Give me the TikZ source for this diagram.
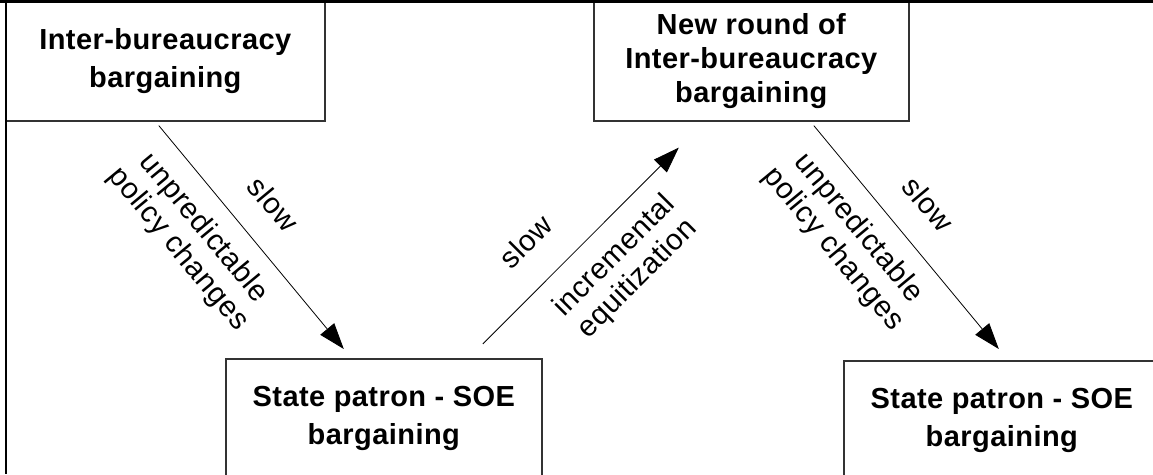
\documentclass[tikz,border=0pt]{standalone}
\usepackage{fontspec}
\setmainfont{Liberation Sans}
\newfontfamily\boxfont[LetterSpace=1.5]{Liberation Sans}
\newfontfamily\lblfont[LetterSpace=2]{Liberation Sans}
\usetikzlibrary{arrows.meta,calc}
\begin{document}
\begin{tikzpicture}[x=1pt,y=-1pt,
  box/.style={draw=black!80, line width=1.6pt, fill=white, minimum height=120pt,
    inner sep=0pt, align=center, anchor=north west,
    font=\boxfont\bfseries\fontsize{29}{38}\selectfont},
  arr/.style={line width=0.8pt, -{Triangle[length=26pt,width=18pt]}},
  lbl/.style={sloped, inner sep=0pt, align=center,
    font=\lblfont\fontsize{29.5}{33}\selectfont}]
\useasboundingbox (0,0) rectangle (1153,474);
\fill[white] (0,0) rectangle (1153,474);
\clip (0,0) rectangle (1153,474);
\node[box, minimum width=319pt] (b1) at (5,0) {Inter-bureaucracy\\bargaining};
\node[box, minimum width=315pt, font=\boxfont\bfseries\fontsize{29}{34}\selectfont] (b2) at (593,0) {New round of\\Inter-bureaucracy\\bargaining};
\node[box, minimum width=316pt] (b3) at (225,358) {State patron - SOE\\bargaining};
\node[box, minimum width=316pt] (b4) at (843,360) {State patron - SOE\\bargaining};
\draw[arr] ($(b1.south)+(-6.5,4)$) -- node[lbl, above=27pt, pos=0.46]{slow}
  node[lbl, below=17pt, pos=0.37]{unpredictable\\policy changes} ($(b3.north)+(-40,-9)$);
\draw[arr] ($(b3.north)+(99,-14)$) -- node[lbl, above=31pt, pos=0.37]{slow}
  node[lbl, below=17pt, pos=0.56]{incremental\\equitization} ($(b2.south)+(-72.5,26)$);
\draw[arr] ($(b2.south)+(62.5,4)$) -- node[lbl, above=27pt, pos=0.46]{slow}
  node[lbl, below=17pt, pos=0.37]{unpredictable\\policy changes} ($(b4.north)+(-3,-11)$);
\draw[line width=3pt] (0,1.5) -- (1153,1.5);
\draw[line width=2.5pt] (6,0) -- (6,474);
\end{tikzpicture}
\end{document}
